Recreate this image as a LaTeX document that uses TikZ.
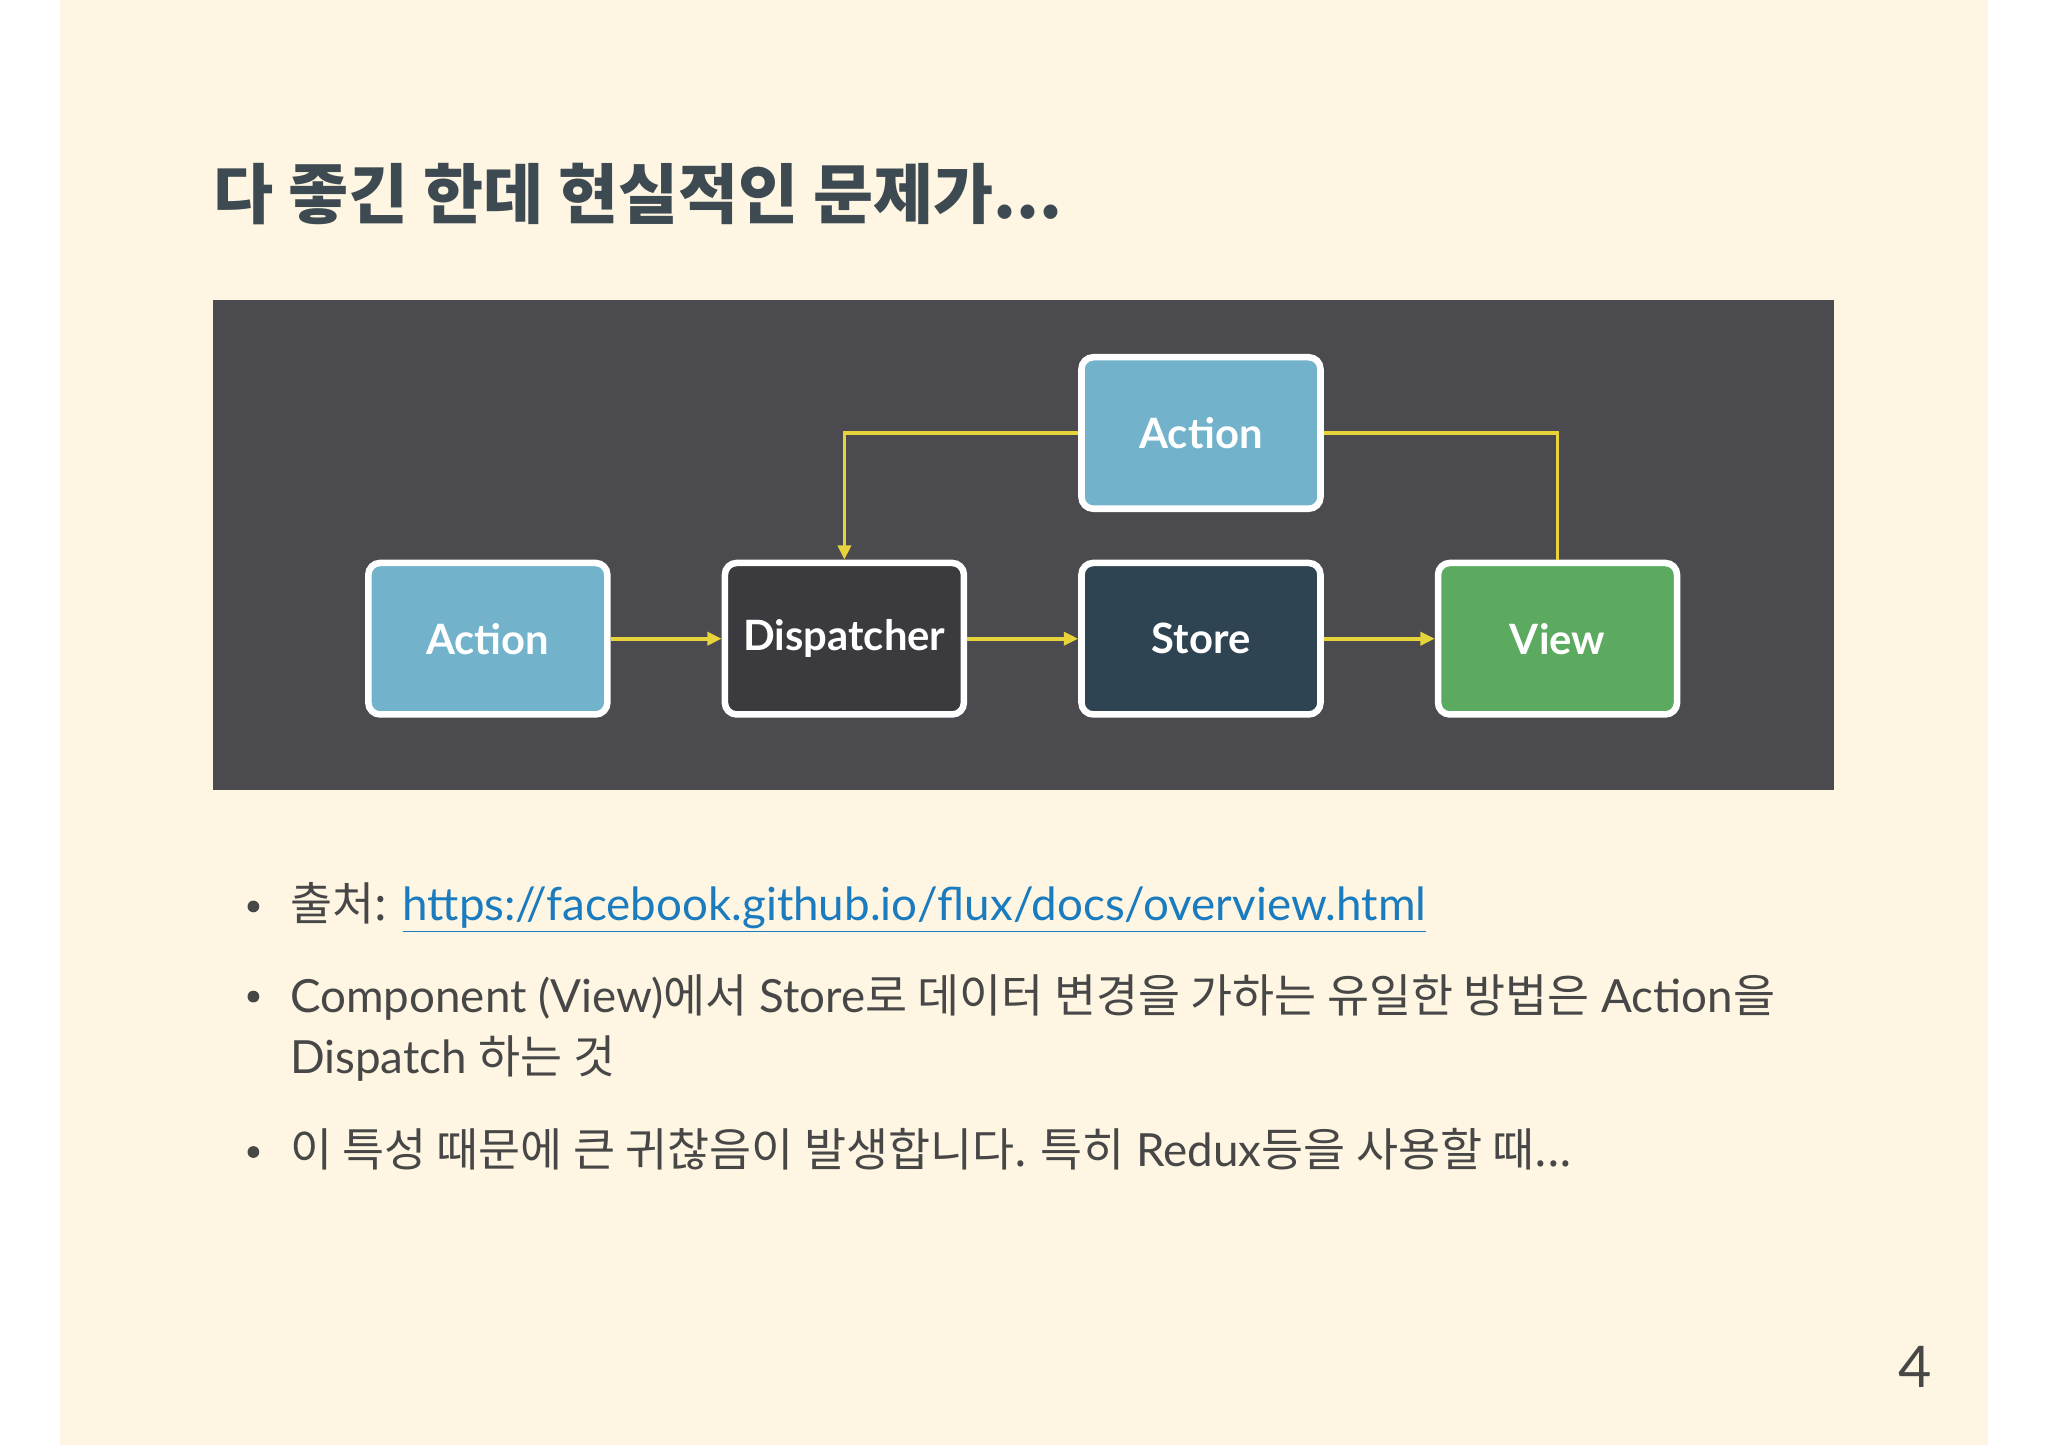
\documentclass[tikz,border=0pt]{standalone}
\usepackage{fontspec}
\setmainfont{Lato}
\newfontfamily\kr{Noto Sans CJK KR}
\usetikzlibrary{arrows.meta}
\definecolor{cream}{HTML}{FEF6E2}
\definecolor{panel}{HTML}{4B4A4F}
\definecolor{actblue}{HTML}{72B3CB}
\definecolor{disp}{HTML}{3B3A3E}
\definecolor{store}{HTML}{2E4452}
\definecolor{view}{HTML}{5CAA5F}
\definecolor{arr}{HTML}{E6D43A}
\definecolor{linkc}{HTML}{1A7BBF}
\definecolor{txt}{HTML}{474747}
\definecolor{ttl}{HTML}{3E4A52}
\begin{document}
\begin{tikzpicture}[x=1pt,y=-1pt,
  fbox/.style={draw=white,line width=5pt,rounded corners=9pt,minimum width=183pt,minimum height=116pt,text=white,font=\fontsize{32}{36}\selectfont\bfseries},
  flow/.style={draw=arr,line width=2.8pt,-{Triangle[length=11pt,width=10pt]}},
  btext/.style={anchor=base west,text=txt,font=\fontsize{35}{40}\selectfont,inner sep=0pt}]
\useasboundingbox (0,0) rectangle (1568,1108);
\fill[white] (0,0) rectangle (1568,1108);
\fill[cream] (46,0) rectangle (1522,1106);
\node[anchor=base west,text=ttl,inner sep=0pt,font=\fontsize{50}{56}\selectfont\kr\bfseries] (title) at (163,167) {다 좋긴 한데 현실적인 문제가...};
\fill[panel] (163,230) rectangle (1404,605);
\node[fbox,fill=actblue] (a1) at (373.5,489) {Action};
\node[fbox,fill=disp] (d) at (646.5,489) {Dispatcher};
\node[fbox,fill=store] (s) at (919.5,489) {Store};
\node[fbox,fill=view] (v) at (1192.5,489) {View};
\node[fbox,fill=actblue] (a2) at (919.5,331.5) {Action};
\draw[flow] (a1) -- (d);
\draw[flow] (d) -- (s);
\draw[flow] (s) -- (v);
\draw[flow] (a2.west) -| (d.north);
\draw[draw=arr,line width=2.8pt] (v.north) |- (a2.east);
\foreach \y/\n in {694/b1,763/b2,882/b3} \fill[txt] (194,\y) circle (4.5pt);
\node[btext] (l1) at (222,705) {{\kr 출처:} \textcolor{linkc}{\underline{https://facebook.github.io/flux/docs/overview.html}}};
\node[btext] (l2) at (222,775) {Component (View){\kr 에서} Store{\kr 로 데이터 변경을 가하는 유일한 방법은} Action{\kr 을}};
\node[btext] (l2b) at (222,822) {Dispatch {\kr 하는 것}};
\node[btext] (l3) at (222,893) {{\kr 이 특성 때문에 큰 귀찮음이 발생합니다. 특히} Redux{\kr 등을 사용할 때...}};
\node[anchor=base east,text=txt,inner sep=0pt,font=\fontsize{44}{50}\selectfont] (pg) at (1479,1062) {4};
\end{tikzpicture}
\end{document}
